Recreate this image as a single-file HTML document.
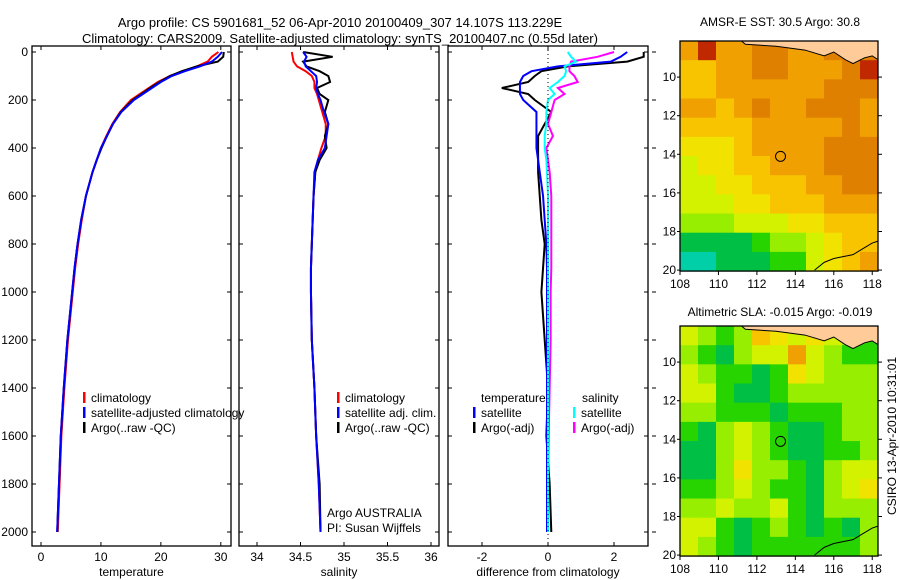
<!DOCTYPE html>
<html><head><meta charset="utf-8"><style>
body{margin:0;background:#fff;}
svg{display:block;font-family:"Liberation Sans",sans-serif;}
text{font-size:12px;fill:#000;}
</style></head><body>
<svg id="fig" width="900" height="580" viewBox="0 0 900 580">
<text x="340" y="27" text-anchor="middle" style="font-size:13px">Argo profile: CS 5901681_52 06-Apr-2010 20100409_307 14.107S 113.229E</text>
<text x="340" y="43" text-anchor="middle" style="font-size:13px">Climatology: CARS2009. Satellite-adjusted climatology: synTS_20100407.nc (0.55d later)</text>
<text x="780" y="26" text-anchor="middle">AMSR-E SST: 30.5 Argo: 30.8</text>
<text x="780" y="316" text-anchor="middle">Altimetric SLA: -0.015 Argo: -0.019</text>
<text transform="translate(896,436) rotate(-90)" text-anchor="middle">CSIRO 13-Apr-2010 10:31:01</text>
</svg>
<script>
const depths=[0,20,40,60,80,100,125,150,175,200,250,300,350,400,450,500,600,700,800,900,1000,1200,1400,1600,1800,2000];
const tempClim=[29.6,28.5,27.8,26,23.8,21.5,19.5,18,16.5,15,13.2,11.9,10.9,10,9.3,8.6,7.5,6.8,6.2,5.7,5.3,4.5,3.9,3.4,3.1,2.8];
const tempSat=[30.2,29.5,28.5,26.5,24,21.8,20,18.5,17,15.5,13.4,12,11,10,9.3,8.6,7.5,6.7,6.1,5.6,5.2,4.4,3.8,3.3,3.0,2.7];
const tempArgo=[30.5,30.4,29.5,26,23.5,21.5,19.8,18.2,16.8,15.3,13.3,12,11,10.1,9.3,8.6,7.5,6.7,6.1,5.6,5.2,4.4,3.8,3.3,3.0,2.7];
const salClim=[34.4,34.41,34.42,34.46,34.56,34.63,34.66,34.66,34.69,34.71,34.75,34.79,34.79,34.74,34.7,34.67,34.65,34.64,34.63,34.62,34.62,34.63,34.66,34.68,34.71,34.73];
const salSat=[34.53,34.57,34.54,34.56,34.62,34.68,34.69,34.68,34.7,34.73,34.77,34.82,34.8,34.78,34.7,34.66,34.65,34.64,34.63,34.62,34.62,34.63,34.66,34.68,34.71,34.73];
const salArgo=[34.53,34.87,34.53,34.57,34.72,34.82,34.84,34.69,34.72,34.82,34.78,34.82,34.78,34.8,34.72,34.67,34.65,34.64,34.63,34.62,34.62,34.63,34.66,34.68,34.72,34.73];
const dTempSat=[2.4,2.2,1.9,0.3,-0.5,-0.75,-0.85,-0.85,-0.85,-0.75,-0.35,-0.35,-0.35,-0.35,-0.3,-0.25,-0.15,-0.1,-0.05,-0.03,-0.03,-0.03,-0.03,-0.03,-0.03,-0.03];
const dTempArgo=[2.9,2.9,2.4,0.6,-0.2,-0.4,-0.6,-1.4,-0.6,-0.4,0.1,-0.1,-0.3,-0.3,-0.3,-0.3,-0.25,-0.2,-0.1,-0.15,-0.2,-0.1,0,-0.05,0.05,0.1];
const dSalSat=[0.6,0.7,0.85,0.5,0.55,0.5,0.3,0.05,0.2,0.0,-0.05,-0.05,-0.1,-0.1,-0.05,-0.03,0,0,0,0,0,0,0,0,0,0];
const dSalArgo=[2.0,1.5,0.7,0.65,0.65,0.8,0.9,0.3,0.5,0.2,0.1,0,0.15,-0.05,0,0.05,0.1,0.1,0.1,0.1,0.08,0.08,0.05,0.02,0,0];
const depthTicks=[0,200,400,600,800,1000,1200,1400,1600,1800,2000];
const tempTicks=[0,10,20,30];
const salTicks=[34,34.5,35,35.5,36];
const diffTicks=[-2,0,2];
const lonTicks=[108,110,112,114,116,118];
const latTicks=[10,12,14,16,18,20];
const sstGrid=[
[7,9,7,7,8,8,7,7,8,8,8],
[6,6,7,7,8,8,7,7,7,8,9],
[6,6,7,7,7,7,7,7,8,8,8],
[7,7,6,7,8,7,7,8,8,8,7],
[6,6,6,6,7,7,7,7,7,8,7],
[5,5,5,6,7,7,7,7,8,8,8],
[4,5,5,6,6,7,7,7,8,8,8],
[4,4,5,5,6,6,6,7,7,8,8],
[4,4,4,5,5,6,6,6,7,7,7],
[3,3,3,4,4,4,5,5,6,6,6],
[1,1,1,1,2,3,3,4,5,6,6],
[0,0,1,1,1,2,2,4,5,6,7]];
const slaGrid=[
[4,3,2,3,6,5,4,5,4,3,2],
[3,2,1,3,4,4,7,4,3,2,2],
[4,3,2,2,1,2,5,4,3,3,3],
[4,4,2,1,1,2,3,3,3,3,3],
[3,3,2,2,2,1,2,2,2,3,3],
[2,1,3,4,3,2,1,1,2,3,3],
[1,1,3,4,3,2,1,1,2,2,3],
[1,1,3,5,3,3,2,1,3,4,4],
[2,2,3,4,3,2,2,1,3,4,5],
[3,3,4,3,3,4,2,1,3,3,3],
[4,4,2,1,2,3,2,1,2,1,3],
[4,3,2,1,2,2,2,2,2,2,3]];
const palette=['#00cfa8','#00bf45','#28d400','#98ee00','#d2f200','#f2e200','#f8c400','#f0a000','#e08000','#c02800'];
const argoLon=113.229, argoLat=14.107;
const coastLon=[115,115.5,116,117,117.5,118,118.3];
const coastLat=[20,19.6,19.4,19.2,18.9,18.6,18.5];

const NS='http://www.w3.org/2000/svg';
const svg=document.getElementById('fig');
function mk(tag,attrs,parent){const e=document.createElementNS(NS,tag);for(const k in attrs)e.setAttribute(k,attrs[k]);(parent||svg).appendChild(e);return e;}
const yD=d=>52+d*0.24;
const PT=46,PB=546;

function panel(name,x0,x1,xmin,xmax,ticks,label,series,labelsLeft){
  const sx=v=>x0+(v-xmin)/(xmax-xmin)*(x1-x0);
  const g=mk('g',{});
  
  
  series.forEach(s=>{
    const p=mk('polyline',{points:s.v.map((v,i)=>sx(v)+','+yD(depths[i])).join(' '),fill:'none',stroke:s.c,'stroke-width':2},g);
    
    
  });
  mk('rect',{x:x0,y:PT,width:x1-x0,height:PB-PT,fill:'none',stroke:'#000','stroke-width':1.3},g);
  ticks.forEach(t=>{
    const x=sx(t);
    mk('line',{x1:x,x2:x,y1:PB,y2:PB-4,stroke:'#000'},g);
    mk('line',{x1:x,x2:x,y1:PT,y2:PT+4,stroke:'#000'},g);
    const tx=mk('text',{x:x,y:561,'text-anchor':'middle'},g);tx.textContent=t;
    
    
  });
  depthTicks.forEach(d=>{
    const y=yD(d);
    mk('line',{x1:x0,x2:x0+4,y1:y,y2:y,stroke:'#000'},g);
    mk('line',{x1:x1,x2:x1-4,y1:y,y2:y,stroke:'#000'},g);
    if(labelsLeft){const tx=mk('text',{x:28,y:y+4,'text-anchor':'end'},g);tx.textContent=d;
      
      }
  });
  const lb=mk('text',{x:(x0+x1)/2,y:576,'text-anchor':'middle'},g);lb.textContent=label;
  
  
  return sx;
}
function legend(x,y,color,txt,name){
  const g=mk('g',{});
  
  
  mk('rect',{x:x,y:y-10,width:2.5,height:11,fill:color},g);
  const t=mk('text',{x:x+8,y:y},g);t.textContent=txt;
}
panel('temperature',32,231,-1.5,31.7,tempTicks,'temperature',[
 {v:tempClim,c:'#ff0000',n:'temp-climatology-line'},{v:tempArgo,c:'#000',n:'temp-argo-line'},{v:tempSat,c:'#0000ff',n:'temp-satellite-line'}],true);
panel('salinity',239,439,33.793,36.092,salTicks,'salinity',[
 {v:salClim,c:'#ff0000',n:'sal-climatology-line'},{v:salArgo,c:'#000',n:'sal-argo-line'},{v:salSat,c:'#0000ff',n:'sal-satellite-line'}],false);
const sxD=panel('difference',448,648,-3.03,3.03,diffTicks,'difference from climatology',[
 {v:dTempArgo,c:'#000',n:'temp-argo-diff-line'},{v:dTempSat,c:'#0000ff',n:'temp-sat-diff-line'},{v:dSalArgo,c:'#ff00ff',n:'sal-argo-diff-line'},{v:dSalSat,c:'#00ffff',n:'sal-sat-diff-line'}],false);
const z=mk('line',{x1:sxD(0),x2:sxD(0),y1:PT,y2:PB,stroke:'#000','stroke-dasharray':'1 3'});


depthTicks.forEach(d=>mk('line',{x1:652,x2:656,y1:yD(d),y2:yD(d),stroke:'#000'}));

legend(83,402,'#ff0000','climatology','legend-climatology');
legend(83,417,'#0000ff','satellite-adjusted climatology','legend-satellite-adjusted');
legend(83,432,'#000','Argo(..raw -QC)','legend-argo');
legend(337,402,'#ff0000','climatology','legend-sal-climatology');
legend(337,417,'#0000ff','satellite adj. clim.','legend-sal-satellite');
legend(337,432,'#000','Argo(..raw -QC)','legend-sal-argo');
let t=mk('text',{x:481,y:402});t.textContent='temperature';

t=mk('text',{x:582,y:402});t.textContent='salinity';

legend(473,417,'#0000ff','satellite','legend-temp-satellite');
legend(473,432,'#000','Argo(-adj)','legend-temp-argo');
legend(573,417,'#00ffff','satellite','legend-sal-satellite-diff');
legend(573,432,'#ff00ff','Argo(-adj)','legend-sal-argo-diff');
t=mk('text',{x:327,y:517});t.textContent='Argo AUSTRALIA';

t=mk('text',{x:327,y:532});t.textContent='PI: Susan Wijffels';


function map(name,top,grid){
  const x0=680,x1=878,lon0=108,lon1=118.3,lat0=8.13,lat1=20.05;
  const bottom=top+(lat1-lat0)*19.3;
  const sx=l=>x0+(l-lon0)/(lon1-lon0)*(x1-x0);
  const sy=l=>top+(l-lat0)/(lat1-lat0)*(bottom-top);
  const g=mk('g',{});
  
  
  const rows=grid.length,cols=grid[0].length;
  for(let r=0;r<rows;r++)for(let c=0;c<cols;c++){
    const la=lat0+(lat1-lat0)*r/rows,la2=lat0+(lat1-lat0)*(r+1)/rows;
    const lo=lon0+(lon1-lon0)*c/cols,lo2=lon0+(lon1-lon0)*(c+1)/cols;
    const cell=mk('rect',{x:sx(lo),y:sy(la),width:sx(lo2)-sx(lo)+0.5,height:sy(la2)-sy(la)+0.5,fill:palette[grid[r][c]]},g);
    
    
  }
  const land=[[111.2,8.13],[111.4,8.3],[113,8.4],[114.5,8.6],[115.5,8.9],[116,8.7],[116.6,9.1],[117,9.3],[117.6,9.0],[118,8.9],[118.3,9.1],[118.3,8.13]];
  const lp=mk('polygon',{points:land.map(p=>sx(p[0])+','+sy(p[1])).join(' '),fill:'#ffcc99',stroke:'#000','stroke-width':1},g);
  
  
  const cl=mk('polyline',{points:coastLon.map((l,i)=>sx(l)+','+sy(coastLat[i])).join(' '),fill:'none',stroke:'#000','stroke-width':1},g);
  
  
  const ci=mk('circle',{cx:sx(argoLon),cy:sy(argoLat),r:5,fill:'none',stroke:'#000','stroke-width':1},g);
  
  
  mk('rect',{x:x0,y:top,width:x1-x0,height:bottom-top,fill:'none',stroke:'#000','stroke-width':1.3},g);
  lonTicks.forEach(l=>{const x=sx(l);mk('line',{x1:x,x2:x,y1:bottom,y2:bottom+4,stroke:'#000'},g);
    const tx=mk('text',{x:x,y:bottom+17,'text-anchor':'middle'},g);tx.textContent=l;
    });
  latTicks.forEach(l=>{const y=sy(l);mk('line',{x1:x1,x2:x1+4,y1:y,y2:y,stroke:'#000'},g);
    mk('line',{x1:x0,x2:x0-3,y1:y,y2:y,stroke:'#000'},g);
    const tx=mk('text',{x:x0-4,y:y+4,'text-anchor':'end'},g);tx.textContent=l;
    });
}
map('sst-map',41,sstGrid);
map('sla-map',326,slaGrid);
</script>
</body></html>
